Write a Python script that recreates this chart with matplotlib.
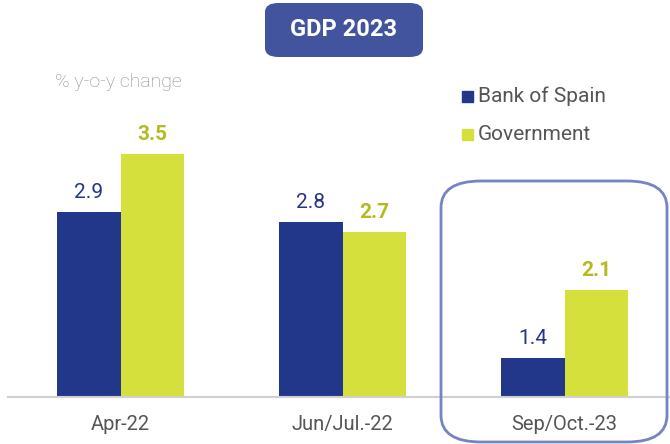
import numpy as np
import matplotlib.pyplot as plt
from matplotlib.patches import FancyBboxPatch

plt.rcParams['font.family'] = ['Roboto', 'DejaVu Sans']

periods = ['Apr-22', 'Jun/Jul.-22', 'Sep/Oct.-23']
bank_of_spain = [2.9, 2.8, 1.4]
government = [3.5, 2.7, 2.1]

blue = '#22368a'
green = '#d6e03c'
green_txt = '#b3bb1f'
gray = '#555555'

W, H = 670, 444
fig = plt.figure(figsize=(W / 100, H / 100), dpi=100)

# axes: baseline at y=397px, x from 8px to 670px
base_px = 397
ax = fig.add_axes([8 / W, 1 - base_px / H, 662 / W, base_px / H])
px_per_unit = 97.3
ax.set_ylim(1, 1 + base_px / px_per_unit)
ax.set_xlim((8 - 120.5) / 222, (670 - 120.5) / 222)

x = np.arange(len(periods))
w = 63.5 / 222
b1 = ax.bar(x - w / 2, [v - 1 for v in bank_of_spain], w, bottom=1, color=blue)
b2 = ax.bar(x + w / 2, [v - 1 for v in government], w, bottom=1, color=green)

for rect, v in zip(b1, bank_of_spain):
    ax.annotate(f'{v:.1f}', (rect.get_x() + rect.get_width() / 2, v),
                xytext=(0, 7), textcoords='offset points', ha='center', va='bottom',
                fontsize=15, color=blue)
for rect, v in zip(b2, government):
    ax.annotate(f'{v:.1f}', (rect.get_x() + rect.get_width() / 2, v),
                xytext=(0, 7), textcoords='offset points', ha='center', va='bottom',
                fontsize=15, color=green_txt, fontweight='bold')

for s in ['top', 'right', 'left']:
    ax.spines[s].set_visible(False)
ax.spines['bottom'].set_color('#d0d0d0')
ax.spines['bottom'].set_linewidth(1.5)
ax.set_yticks([])
ax.set_xticks(x)
ax.set_xticklabels(periods, fontsize=14.5, color=gray)
ax.tick_params(axis='x', length=0, pad=13)

# title box
fig.text(344 / W, 1 - 30 / H, 'GDP 2023', ha='center', va='center', fontsize=17,
         fontweight='bold', color='white')
fig.patches.append(FancyBboxPatch((265 / W, 1 - 57 / H), 158 / W, 54 / H,
                                  boxstyle='round,pad=0,rounding_size=0.02',
                                  transform=fig.transFigure, facecolor='#42549e',
                                  edgecolor='none', zorder=0))

fig.text(55 / W, 1 - 82 / H, '% y-o-y change', ha='left', va='center', fontsize=14,
         color='#8c8c8c', fontweight='light')

# legend
for i, (lab, col) in enumerate([('Bank of Spain', blue), ('Government', green)]):
    yc = 96 + 38 * i
    fig.patches.append(plt.Rectangle((462 / W, 1 - (yc + 6) / H), 11 / W, 11 / H,
                                     transform=fig.transFigure, color=col))
    fig.text(478 / W, 1 - yc / H, lab, ha='left', va='center', fontsize=15, color=gray)

# highlight box
fig.patches.append(FancyBboxPatch((441 / W, 1 - 442 / H), 226 / W, 261 / H,
                                  boxstyle='round,pad=0,rounding_size=0.06',
                                  transform=fig.transFigure, facecolor='none',
                                  edgecolor='#7584c2', linewidth=2, zorder=5))

fig.savefig('out.png', dpi=100)
